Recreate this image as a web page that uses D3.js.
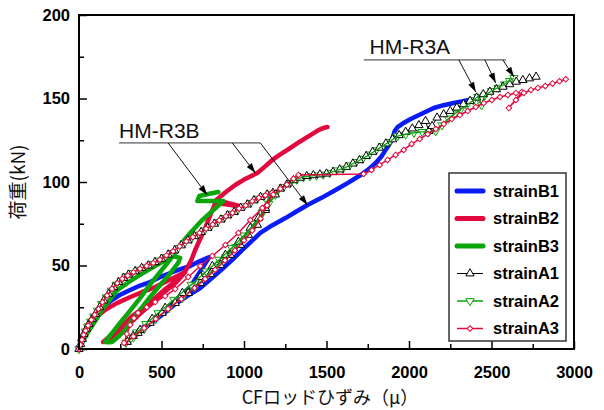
<!DOCTYPE html>
<html><head><meta charset="utf-8">
<script src="https://cdn.jsdelivr.net/npm/d3@7"></script>
<style>body{margin:0;background:#fff}</style>
</head><body>
<svg id="c" width="604" height="410"></svg>
<script>
// ---------- axis ticks ----------
const xTicks=[0,500,1000,1500,2000,2500,3000];
const xMinor=[250,750,1250,1750,2250,2750];
const yTicks=[0,50,100,150,200];
const yMinor=[25,75,125,175];
const seriesNames=["strainB1","strainB2","strainB3","strainA1","strainA2","strainA3"];

// ---------- data: [strain(μ), load(kN)] ----------
const strainB1=[[0,0],[30,6],[55,11.4],[90,17],[128,22.2],[165,26.5],[200,29.3],[250,32.5],[310,35.3],[370,38],[431,40.1],[490,43],[553,45.5],[615,47.8],[674,49.7],[730,52.5],[790,55],
[674,37.1],[560,27],[492,21.6],[400,14],[292,4.2],
[360,9.5],[431,15],[510,21],[583,26.9],[660,32],[735,36.5],[800,42],[868,47.9],[930,53.5],[990,59.3],[1045,64.5],[1099,69.5],[1170,74],[1251,78.4],[1320,82.5],[1385,86.2],[1470,90.5],[1555,95.2],[1630,99.5],[1707,104.2],[1760,108],[1798,111.4],[1835,115.5],[1858,119.2],[1880,122.5],[1895,125.1],[1907,128.5],[1913,130.5],[1931,132.9],[1970,135.5],[2010,137.7],[2080,141],[2150,144.3],[2210,146],[2271,147.3],[2320,148.3],[2362,149.1]];

const strainB2=[[0,0],[25,7],[55,13],[97,18.5],[160,23.5],[230,27.5],[298,30.5],[380,34],[462,37.1],[550,41.5],[644,46.1],
[590,40],[522,34.5],[450,28],[383,22.2],[315,16],[249,10.2],[195,6.5],[146,4.2],
[200,8.5],[260,13.5],[320,19.5],[383,24],[450,29.5],[522,35.8],[590,41],[644,46.5],[680,53],[704,59.3],[735,66],[765,72.5],[795,80],[826,87.4],[900,86.5],[996,85],[900,87.5],[832,89.2],[890,94],[947,98.2],[1010,102],[1081,105.4],[1130,109.5],[1172,113.2],[1220,116.5],[1263,119.2],[1320,123],[1373,126.3],[1410,128.5],[1451,131.1],[1480,132.3],[1506,132.9]];

const strainB3=[[0,0],[25,5],[60,11],[100,17],[150,25],[230,35],[300,40],[380,45],[450,49],[520,53],[575,55.5],[613,54.5],
[601,51.5],[550,45],[492,38.3],[430,31],[370,23.4],[320,17],[279,11.4],[240,7.5],[200,4.2],[180,4],[158,4.2],
[200,9.5],[249,15.6],[310,23],[370,30.5],[430,38.5],[492,46.1],[540,52],[583,57.5],[613,62.3],[674,69.5],[740,76.5],[814,83.2],[875,88.6],[800,88.6],[717,88.6],[729,91.6],[790,93],[844,94]];

// strainA1 pieces
const a1Load=[[0,0],[10,3],[20,6],[30,9],[45,12],[60,15],[80,18],[100,21],[125,25],[150,29],[180,33],[210,37],[240,40],[270,42.5],[300,44.5],[340,46.5],[380,48.5],[420,50],[460,52],[500,54],[540,56.5],[580,59],[620,62],[660,65],[700,67.5],[740,70],[780,72.5],[820,75],[860,77.5],[900,80],[940,82],[980,84.5],[1020,86.5],[1060,89],[1100,91],[1140,92.5],[1175,93.5]];
const a1Unload=[[1130,83.2],[1081,74.3],[1026,68.3],[978,62.3],[917,56.3],[856,50.3],[796,44.9],[735,39.5],[662,33.5],[583,27.5],[504,21.6],[431,15.6],[358,9.6],[292,4.2]];
const a1Reload=[[328,7.8],[370,11.4],[443,18],[522,24.6],[626,33.5],[735,43.1],[808,49.7],[887,56.3],[966,64.1],[1038,72.5],[1087,78.4],[1130,84.4],[1190,92.5]];
const a1Upper=[[1220,96],[1260,98.5],[1300,101],[1340,102.5],[1380,103.5],[1420,104],[1460,104.5],[1500,105],[1540,106],[1580,107.5],[1620,109],[1660,111],[1700,113],[1740,115.5],[1780,118],[1820,120.5],[1860,123],[1900,125.5],[1940,128],[1980,130],[2020,132],[2060,134],[2100,136.5],[2120,130.5],[2140,133.5],[2170,138.5],[2210,140.5],[2250,142.5],[2290,144.5],[2330,146.5],[2370,148.5],[2410,150.5],[2450,152.5],[2490,154],[2530,155.5],[2570,157],[2610,158.5],[2650,160],[2690,161],[2730,162],[2770,163]];

// strainA2 pieces
const a2Load=[[0,0],[15,4],[25,7.5],[38,10.5],[52,13.5],[70,16.5],[90,19.5],[112,23],[138,27],[165,31],[195,35],[225,38.5],[255,41],[285,43.5],[320,45.5],[360,47.5],[400,49],[440,51],[480,53],[520,55],[560,57.5],[600,60.5],[640,63.5],[680,66],[720,68.5],[760,71],[800,73.5],[840,76],[880,78.5],[920,81],[960,83],[1000,85.5],[1040,87.5],[1080,90],[1120,91.5],[1160,93]];
const a2Unload=[[1115,82],[1060,73.5],[1005,67],[950,61],[890,55],[830,49],[770,43.5],[700,37],[625,30.5],[545,24.5],[465,18],[395,12],[330,7],[285,3.8]];
const a2Reload=[[315,6.5],[350,10],[405,15],[480,21.5],[575,29.5],[680,38.5],[772,46.5],[850,53.5],[925,60.5],[1000,68],[1062,75],[1110,81.5],[1150,87],[1190,92.5]];
const a2Upper=[[1240,97],[1280,99.5],[1320,101.5],[1360,103],[1400,103.5],[1440,104],[1480,104.5],[1520,105.5],[1560,107],[1600,108],[1640,110],[1680,112],[1720,114],[1760,116.5],[1800,119],[1840,121.5],[1880,124],[1931,127.5],[1980,128.5],[2030,129.5],[2080,130],[2120,130],[2162,130.5],[2200,134],[2240,138],[2280,141],[2314,143.5],[2350,146],[2390,149],[2417,151],[2440,146],[2460,152],[2500,154.5],[2540,156.5],[2580,158.5],[2610,160.5],[2636,162.3]];

// strainA3 pieces
const a3Load=[[0,0],[8,2.5],[18,5.5],[28,8.5],[40,11],[55,14],[75,17.5],[95,20.5],[118,24],[142,28],[170,32],[200,36],[232,39.5],[262,42],[295,44],[330,46],[370,48],[410,49.8],[450,51.5],[490,53.5],[530,56],[570,58.5],[610,61.5],[650,64.5],[690,67],[730,69.5],[770,72],[810,74.5],[850,77],[890,79.5],[930,81.5],[970,84],[1010,86],[1050,88.5],[1090,90.5],[1130,92],[1170,93.5]];
const a3Unload=[[1140,86],[1100,78],[1050,71],[1000,65],[945,59],[885,53],[825,47.5],[765,42],[700,36.5],[620,30],[540,24],[465,18],[395,12.5],[330,7.5],[280,3.6]];
const a3Reload=[[273,3.6],[290,9],[310,14.4],[333,18.5],[358,21.6],[410,25],[462,28.1],[522,31.7],[583,35.9],[662,43.1],[735,49.7],[808,55.7],[887,62.3],[966,69.5],[1038,77.2],[1111,84.4],[1178,92.5]];
const a3Upper=[[1220,96],[1260,98.5],[1300,102],[1330,104.2],[1725,104.8],[1773,107.2],[1822,110.2],[1870,113.2],[1919,116.2],[1968,119.2],[2016,122.8],[2065,125.7],[2113,128.7],[2162,131.7],[2211,134.7],[2259,137.7],[2308,140.1],[2356,142.5],[2405,144.9],[2453,147.3],[2502,149.1],[2551,150.9],[2599,152.1],[2648,153.3],[2684,153.9],[2605,144.3],[2648,149.1],[2696,153.3],[2739,155.1],[2781,156.3],[2826,157.5],[2870,159],[2912,160.3],[2950,161.5]];

const strainA1=[...a1Load,...a1Unload,...a1Reload,...a1Upper];
const strainA2=[...a2Load,...a2Unload,...a2Reload,...a2Upper];
const strainA3=[...a3Load,...a3Unload,...a3Reload,...a3Upper];

// ---------- annotations (data units) ----------
const annotations=[
 {label:"HM-R3B", at:[243,126.6], under:[243,1099,123.4],
  arrows:[[[540,123.4],[777,92.2]],[[929,123.4],[1069,105.4]],[[1099,123.4],[1385,86.2]]]},
 {label:"HM-R3A", at:[1761,176.6], under:[1725,2587,173.1],
  arrows:[[[2302,173.1],[2405,153.9]],[[2460,173.1],[2526,159.3]],[[2569,173.1],[2636,162.9]]]}
];

// ---------- drawing ----------
const BLUE="#0a1cf5", RED="#e2083e", GREEN="#0aa50a";
const svg=d3.select("#c");
const x=d3.scaleLinear().domain([0,3000]).range([79,574]);
const y=d3.scaleLinear().domain([0,200]).range([349,15]);
const tickFont="'Liberation Sans',Arial,sans-serif";

// axes
const gx=svg.append("g").attr("transform","translate(0,349)")
 .call(d3.axisBottom(x).tickValues(xTicks).tickFormat(d3.format("d")).tickSizeInner(-8).tickSizeOuter(0).tickPadding(17));
const gxm=svg.append("g").attr("transform","translate(0,349)")
 .call(d3.axisBottom(x).tickValues(xMinor).tickSizeInner(-5).tickSizeOuter(0).tickFormat(""));
const gy=svg.append("g").attr("transform","translate(79,0)")
 .call(d3.axisLeft(y).tickValues(yTicks).tickFormat(d3.format("d")).tickSizeInner(-8).tickSizeOuter(0).tickPadding(9));
const gym=svg.append("g").attr("transform","translate(79,0)")
 .call(d3.axisLeft(y).tickValues(yMinor).tickSizeInner(-5).tickSizeOuter(0).tickFormat(""));
[gx,gxm,gy,gym].forEach(g=>{
  g.select(".domain").remove();
  g.selectAll(".tick line").attr("stroke","#000").attr("stroke-width",1.5);
  g.selectAll("text").attr("font-family",tickFont).attr("font-weight","bold").attr("font-size",16.5).attr("fill","#000");
});

const line=d3.line().x(d=>x(d[0])).y(d=>y(d[1]));
function thick(data,color){
  svg.append("path").datum(data).attr("d",line).attr("fill","none")
   .attr("stroke",color).attr("stroke-width",4.5).attr("stroke-linecap","round").attr("stroke-linejoin","round");
}
thick(strainB1,BLUE);
thick(strainB2,RED);
thick(strainB3,GREEN);

const symTri=d3.symbol().type(d3.symbolTriangle).size(30)();
const symSq=d3.symbol().type(d3.symbolSquare).size(16)();
function markerSeries(data,color,sym,rot,lw){
  const g=svg.append("g");
  g.append("path").datum(data).attr("d",line).attr("fill","none")
   .attr("stroke",color).attr("stroke-width",lw).attr("stroke-linejoin","round");
  g.selectAll("path.m").data(data).join("path").attr("class","m")
   .attr("d",sym).attr("transform",d=>`translate(${x(d[0])},${y(d[1])}) rotate(${rot})`)
   .attr("fill","#fff").attr("stroke",color).attr("stroke-width",1);
  return g;
}
// drawing order: A2 under A1, A3 on top
const gA2=markerSeries(strainA2,GREEN,symTri,180,1.5);
const gA1=markerSeries(strainA1,"#000",symTri,0,1);
const gA3=markerSeries(strainA3,RED,symSq,45,1.5);
// keep green line visible above the black markers
svg.append("path").datum(strainA2).attr("d",line).attr("fill","none").attr("stroke",GREEN).attr("stroke-width",1.3);
gA3.raise();

// annotations
function arrow(x1,y1,x2,y2){
  svg.append("line").attr("x1",x1).attr("y1",y1).attr("x2",x2).attr("y2",y2)
   .attr("stroke","#111").attr("stroke-width",1);
  const a=Math.atan2(y2-y1,x2-x1),L=10,W=3.2;
  const bx=x2-L*Math.cos(a),by=y2-L*Math.sin(a);
  const px=-Math.sin(a)*W,py=Math.cos(a)*W;
  svg.append("polygon").attr("points",`${x2},${y2} ${bx+px},${by+py} ${bx-px},${by-py}`).attr("fill","#000");
}
annotations.forEach(an=>{
  svg.append("text").attr("x",x(an.at[0])).attr("y",y(an.at[1])).text(an.label)
   .attr("font-family",tickFont).attr("font-size",21).attr("fill","#111");
  svg.append("line").attr("x1",x(an.under[0])).attr("x2",x(an.under[1]))
   .attr("y1",y(an.under[2])).attr("y2",y(an.under[2])).attr("stroke","#333").attr("stroke-width",1);
  an.arrows.forEach(a=>arrow(x(a[0][0]),y(a[0][1]),x(a[1][0]),y(a[1][1])));
});

// frame
svg.append("rect").attr("x",79).attr("y",15).attr("width",495).attr("height",334)
 .attr("fill","none").attr("stroke","#000").attr("stroke-width",2);

// legend
const lg=svg.append("g");
lg.append("rect").attr("x",449).attr("y",173).attr("width",117).attr("height",168)
 .attr("fill","#fff").attr("stroke","#333").attr("stroke-width",1.5);
const legStyle=[
 {c:BLUE,w:5,sym:null},{c:RED,w:5,sym:null},{c:GREEN,w:5,sym:null},
 {c:"#000",w:1,sym:symTri,rot:0},{c:GREEN,w:1.5,sym:symTri,rot:180},{c:RED,w:1.5,sym:symSq,rot:45}];
seriesNames.forEach((n,i)=>{
  const yy=191+i*27.5, s=legStyle[i];
  lg.append("line").attr("x1",457).attr("x2",483).attr("y1",yy).attr("y2",yy)
   .attr("stroke",s.c).attr("stroke-width",s.w).attr("stroke-linecap",s.sym?"butt":"round");
  if(s.sym) lg.append("path").attr("d",s.sym).attr("transform",`translate(470,${yy}) rotate(${s.rot})`)
   .attr("fill","#fff").attr("stroke",s.c).attr("stroke-width",1);
  lg.append("text").attr("x",493).attr("y",yy).attr("dy","0.36em").text(n)
   .attr("font-family",tickFont).attr("font-weight","bold").attr("font-size",16.5).attr("fill","#000");
});

// axis titles
svg.append("text").attr("transform","translate(25,182) rotate(-90)").attr("text-anchor","middle")
 .attr("font-family","'Noto Sans CJK JP',sans-serif").attr("font-size",19).attr("fill","#111").text("荷重(kN)");
svg.append("text").attr("x",330).attr("y",404).attr("text-anchor","middle")
 .attr("font-family","'Noto Sans CJK JP',sans-serif").attr("font-size",18).attr("fill","#111").text("CFロッドひずみ（μ）");
</script>
</body></html>
